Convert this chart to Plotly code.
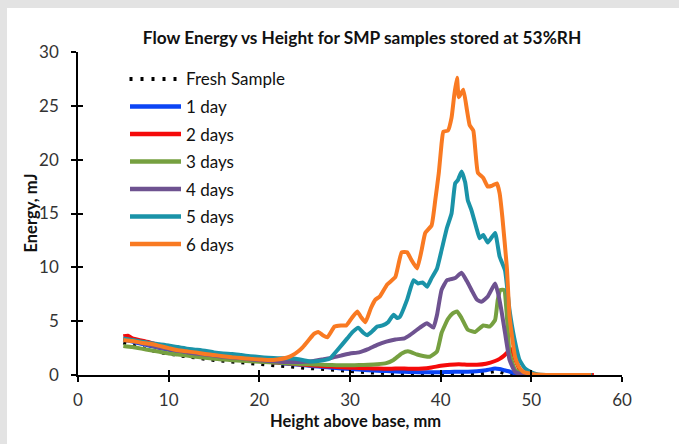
import plotly.graph_objects as go

# ---------------- data ----------------
fresh_x = [5, 6, 7, 8, 9, 10, 11, 12, 13, 14, 15, 16, 17, 18, 19, 20, 21, 22, 23, 24, 25, 26, 27, 28, 29, 30,
           31, 32, 33, 34, 35, 36, 37, 38, 39, 40, 41, 42, 43, 44, 45, 46, 46.5, 47, 48, 49, 50, 52, 54, 56.7]
fresh_y = [3.0, 2.75, 2.5, 2.3, 2.1, 1.95, 1.8, 1.7, 1.6, 1.45, 1.38, 1.3, 1.22, 1.15, 1.05, 1.0, 0.93, 0.88, 0.8,
           0.72, 0.65, 0.6, 0.52, 0.45, 0.4, 0.33, 0.28, 0.22, 0.18, 0.14, 0.1, 0.08, 0.06, 0.05, 0.04, 0.04, 0.04,
           0.04, 0.05, 0.08, 0.2, 0.35, 0.3, 0.15, 0.05, 0.02, 0, 0, 0, 0]

day1_x = [5, 6, 7, 8, 9, 10, 11, 12, 13, 14, 15, 16, 17, 18, 19, 20, 21, 22, 23, 24, 25, 26, 27, 28, 29, 30,
          31, 32, 33, 34, 35, 36, 37, 38, 39, 40, 41, 42, 43, 44, 45, 46, 46.5, 47, 47.5, 48, 48.5, 49, 50, 56.7]
day1_y = [3.3, 3.1, 2.9, 2.7, 2.5, 2.35, 2.2, 2.05, 1.95, 1.85, 1.75, 1.65, 1.55, 1.45, 1.38, 1.3, 1.22, 1.15,
          1.05, 0.98, 0.9, 0.82, 0.75, 0.68, 0.6, 0.55, 0.5, 0.45, 0.4, 0.36, 0.32, 0.3, 0.28, 0.25, 0.25, 0.26,
          0.28, 0.3, 0.3, 0.35, 0.45, 0.6, 0.55, 0.45, 0.35, 0.2, 0.1, 0.03, 0, 0]

day2_x = [5, 5.5, 6, 7, 8, 9, 10, 11, 12, 13, 14, 15, 16, 17, 18, 19, 20, 21, 22, 23, 24, 25, 26, 27, 28, 29,
          30, 31, 32, 33, 34, 35, 36, 37, 38, 39, 40, 41, 42, 43, 44, 45, 46, 46.5, 47, 47.5, 47.8, 48.2, 48.7,
          49.2, 50, 56.9]
day2_y = [3.6, 3.65, 3.4, 3.2, 3.0, 2.75, 2.55, 2.4, 2.2, 2.05, 1.9, 1.8, 1.7, 1.6, 1.5, 1.4, 1.3, 1.22, 1.15,
          1.1, 1.02, 0.95, 0.88, 0.82, 0.78, 0.72, 0.68, 0.65, 0.62, 0.6, 0.58, 0.6, 0.6, 0.58, 0.6, 0.7, 0.85,
          0.95, 1.0, 0.95, 0.95, 1.05, 1.3, 1.5, 1.8, 2.2, 2.4, 1.5, 0.5, 0.1, 0, 0]

day3_x = [5, 6, 7, 8, 9, 10, 11, 12, 13, 14, 15, 16, 17, 18, 19, 20, 21, 22, 23, 24, 25, 26, 27, 28, 29, 30,
          31, 32, 33, 34, 34.8, 35.7, 36.4, 37.4, 38.2, 38.8, 39.6, 40.1, 40.8, 41.3, 41.8, 42.3, 43.0, 43.8,
          44.7, 45.4, 46.0, 46.3, 46.6, 47.0, 47.3, 47.6, 48.2, 48.8, 49.5, 50, 56.7]
day3_y = [2.7, 2.6, 2.45, 2.3, 2.15, 2.0, 1.9, 1.8, 1.7, 1.6, 1.5, 1.45, 1.38, 1.32, 1.27, 1.22, 1.18, 1.15, 1.1,
          1.05, 1.0, 0.98, 0.95, 0.92, 0.9, 0.9, 0.92, 0.95, 1.0, 1.1, 1.4, 2.0, 2.2, 1.9, 1.75, 1.7, 2.2, 3.9,
          5.2, 5.7, 5.9, 5.3, 4.2, 4.0, 4.6, 4.5, 5.1, 7.0, 7.9, 7.9, 5.5, 2.0, 0.5, 0.15, 0.02, 0, 0]

day4_x = [5, 6, 7, 8, 9, 10, 11, 12, 13, 14, 15, 16, 17, 18, 19, 20, 21, 22, 23, 24, 25, 26, 27, 28, 29, 30,
          31, 32, 33, 34, 35, 36, 36.6, 37.7, 38.5, 39.2, 39.6, 40.1, 40.7, 41.6, 42.3, 42.9, 43.4, 44.0, 44.5,
          45.2, 46.0, 46.3, 46.7, 47.1, 47.6, 48.2, 49, 50, 56.7]
day4_y = [3.3, 3.15, 2.95, 2.75, 2.55, 2.4, 2.25, 2.1, 2.0, 1.9, 1.8, 1.7, 1.62, 1.55, 1.45, 1.38, 1.3, 1.25, 1.2,
          1.2, 1.22, 1.3, 1.45, 1.6, 1.8, 2.0, 2.1, 2.4, 2.8, 3.1, 3.3, 3.4, 3.7, 4.4, 4.8, 4.4, 5.6, 7.9, 8.8,
          9.0, 9.5, 8.7, 7.9, 7.0, 6.8, 7.3, 8.5, 7.7, 6.0, 3.9, 1.4, 0.3, 0.05, 0, 0]

day5_x = [5, 6, 7, 8, 9, 10, 11, 12, 13, 14, 15, 16, 17, 18, 19, 20, 21, 22, 23, 24, 25, 25.6, 26.5, 27.3, 27.8,
          28.6, 29.7, 30.3, 30.9, 31.5, 31.9, 32.5, 33.0, 33.6, 34.2, 34.8, 35.2, 35.5, 36.3, 37.0, 37.5, 38.0,
          38.5, 39.0, 39.6, 40.1, 40.7, 41.2, 41.6, 41.9, 42.3, 42.7, 43.0, 43.4, 44.0, 44.3, 44.7, 45.2, 46.0,
          46.5, 47.1, 47.6, 48.1, 48.7, 49.3, 49.9, 50.5, 51, 52, 56.7]
day5_y = [3.4, 3.25, 3.1, 2.95, 2.85, 2.75, 2.6, 2.45, 2.35, 2.25, 2.1, 2.0, 1.95, 1.85, 1.75, 1.67, 1.6, 1.55,
          1.55, 1.5, 1.35, 1.25, 1.3, 1.4, 1.55, 2.3, 3.4, 4.0, 4.4, 3.9, 3.7, 4.1, 4.5, 4.6, 4.9, 5.6, 5.3, 5.4,
          7.0, 8.8, 8.5, 8.6, 8.2, 9.0, 9.9, 11.6, 13.7, 15.0, 17.8, 18.1, 18.9, 17.9, 16.2, 15.3, 13.5, 12.7,
          13.0, 12.3, 13.2, 11.0, 9.7, 6.0, 3.5, 1.4, 0.6, 0.3, 0.1, 0.02, 0, 0]

day6_x = [5, 6, 7, 8, 9, 10, 11, 12, 13, 14, 15, 16, 17, 18, 19, 20, 21, 22, 23, 23.7, 24.3, 24.8, 25.5, 26.0,
          26.5, 27.0, 27.5, 28.3, 29.0, 29.6, 30.2, 30.8, 31.2, 31.7, 32.3, 32.8, 33.3, 34.1, 35.0, 35.7, 36.3,
          36.7, 37.4, 37.9, 38.3, 39.0, 39.4, 39.8, 40.1, 40.3, 40.8, 41.2, 41.5, 41.8, 42.0, 42.5, 42.9, 43.2,
          43.6, 44.1, 44.7, 45.2, 45.7, 46.2, 46.5, 46.8, 47.3, 47.6, 48.2, 48.6, 49.1, 50, 51, 52, 56.6]
day6_y = [3.25, 3.15, 3.0, 2.9, 2.7, 2.5, 2.3, 2.2, 2.1, 1.95, 1.85, 1.75, 1.65, 1.58, 1.5, 1.45, 1.4, 1.45, 1.6,
          1.85, 2.2, 2.6, 3.3, 3.8, 4.0, 3.7, 3.5, 4.5, 4.6, 4.6, 5.3, 5.9, 5.4, 4.9, 6.2, 7.0, 7.3, 8.4, 9.1,
          11.4, 11.4, 10.8, 9.9, 11.6, 13.2, 13.9, 16.2, 18.8, 21.5, 22.6, 22.7, 23.9, 26.0, 27.6, 25.8, 26.5,
          24.6, 23.2, 22.7, 18.8, 18.3, 17.5, 17.6, 17.8, 16.9, 14.7, 10.0, 5.4, 1.7, 0.8, 0.3, 0.1, 0.02, 0, 0]

series_names = ["Fresh Sample", "1 day", "2 days", "3 days", "4 days", "5 days", "6 days"]
series_x = [fresh_x, day1_x, day2_x, day3_x, day4_x, day5_x, day6_x]
series_y = [fresh_y, day1_y, day2_y, day3_y, day4_y, day5_y, day6_y]
colors = ["#000000", "#0B45F5", "#F50A0A", "#76A040", "#6E5290", "#1A93A8", "#F97A22"]

x_ticks = [0, 10, 20, 30, 40, 50, 60]
y_ticks = [0, 5, 10, 15, 20, 25, 30]

# ---------------- layout geometry (pixels) ----------------
W, H = 679, 444
L, R, T, B = 78, 622, 52, 375


def px(xp):
    return (xp - L) / (R - L)


def py(yp):
    return (B - yp) / (B - T)


FONT = "Lato, 'Open Sans', sans-serif"

fig = go.Figure()
for i, (name, xs, ys, c) in enumerate(zip(series_names, series_x, series_y, colors)):
    if i == 0:
        line = dict(color=c, width=3.5, dash="3px,7px")
    else:
        line = dict(color=c, width=4, shape="spline", smoothing=0.4)
    fig.add_trace(go.Scatter(x=xs, y=ys, mode="lines", name=name, line=line, showlegend=False))

# invisible trace on overlay axes for double-sided ticks
fig.add_trace(go.Scatter(x=[None], y=[None], xaxis="x2", yaxis="y2", showlegend=False, hoverinfo="skip"))

shapes = []
annotations = []

# white card over grey page background
shapes.append(dict(type="rect", xref="paper", yref="paper", x0=px(7), x1=px(W + 5), y0=py(H + 5), y1=py(8),
                   fillcolor="white", line=dict(width=0), layer="below"))

# manual legend
rows = [79, 106.5, 134, 161.5, 189, 216.5, 244]
for i, (name, c, yr) in enumerate(zip(series_names, colors, rows)):
    if i == 0:
        shapes.append(dict(type="line", xref="paper", yref="paper", x0=px(129.5), x1=px(181), y0=py(yr), y1=py(yr),
                           line=dict(color=c, width=4, dash="3px,8px")))
    else:
        shapes.append(dict(type="line", xref="paper", yref="paper", x0=px(130), x1=px(181), y0=py(yr), y1=py(yr),
                           line=dict(color=c, width=4.5)))
    annotations.append(dict(text=name, xref="paper", yref="paper", x=px(184), y=py(yr), xanchor="left",
                            yanchor="middle", showarrow=False, font=dict(family=FONT, size=17, color="#111111")))

# axis titles
annotations.append(dict(text="<b>Energy, mJ</b>", xref="paper", yref="paper", x=px(30), y=py(213.5),
                        xanchor="center", yanchor="middle", textangle=-90, showarrow=False,
                        font=dict(family=FONT, size=16.5, color="#111111")))
annotations.append(dict(text="<b>Height above base, mm</b>", xref="paper", yref="paper", x=px(355), y=py(421),
                        xanchor="center", yanchor="middle", showarrow=False,
                        font=dict(family=FONT, size=16.5, color="#111111")))

axis_common = dict(showgrid=False, zeroline=False, showline=True, linecolor="#000000", linewidth=1.5,
                   tickcolor="#000000", tickwidth=1.5, ticklen=5)

fig.update_layout(
    width=W, height=H,
    margin=dict(l=L, r=W - R, t=T, b=H - B, pad=0),
    paper_bgcolor="#e3e3e3",
    plot_bgcolor="rgba(0,0,0,0)",
    title=dict(text="<b>Flow Energy vs Height for SMP samples stored at 53%RH</b>", x=362 / W, xanchor="center",
               y=1 - 38 / H, yanchor="middle", xref="container", yref="container",
               font=dict(family=FONT, size=17.3, color="#111111")),
    xaxis=dict(range=[0, 60], tickvals=x_ticks, ticks="outside", ticklabelstandoff=4,
               tickfont=dict(family=FONT, size=17, color="#333333"), **axis_common),
    yaxis=dict(range=[0, 30], tickvals=y_ticks, ticks="outside", ticklabelstandoff=9,
               tickfont=dict(family=FONT, size=17, color="#333333"), **axis_common),
    xaxis2=dict(overlaying="x", matches="x", anchor="y2", side="bottom", tickvals=x_ticks, ticks="inside",
                showticklabels=False, showgrid=False, zeroline=False, showline=False,
                tickcolor="#000000", tickwidth=1.5, ticklen=5),
    yaxis2=dict(overlaying="y", matches="y", anchor="x2", side="left", tickvals=y_ticks, ticks="inside",
                showticklabels=False, showgrid=False, zeroline=False, showline=False,
                tickcolor="#000000", tickwidth=1.5, ticklen=5),
    shapes=shapes,
    annotations=annotations,
    showlegend=False,
)

fig.write_html("out.html", config={"displayModeBar": False},
               post_script="document.body.style.margin='0';document.body.style.padding='0';")
